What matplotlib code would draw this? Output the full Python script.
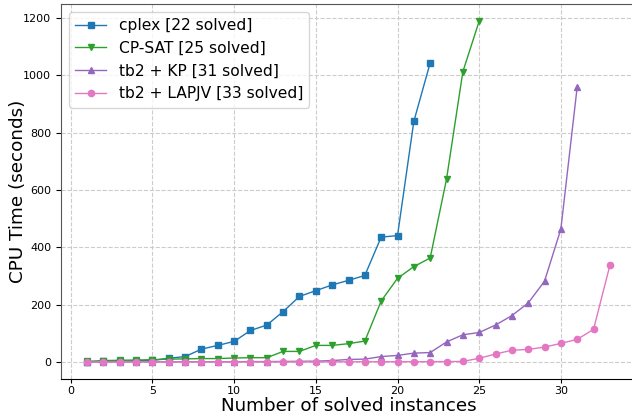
import matplotlib
matplotlib.use("Agg")
import matplotlib.pyplot as plt

cplex_x = list(range(1, 23))
cplex_y = [1, 2, 3, 4, 6, 13, 19, 45, 58, 72, 110, 129, 176, 229, 249, 269, 285, 302, 436, 441, 840, 1044]

cpsat_x = list(range(1, 26))
cpsat_y = [2, 5, 6, 7, 8, 10, 11, 12, 12, 14, 15, 15, 37, 37, 58, 58, 64, 73, 213, 292, 333, 363, 638, 1013, 1190]

kp_x = list(range(1, 32))
kp_y = [0.5, 0.5, 0.5, 0.6, 0.7, 0.8, 0.9, 1, 1, 1, 1.5, 1.5, 2, 2.5, 3, 5, 9, 10, 19, 23, 31, 33, 70, 95, 103, 129, 162, 206, 282, 464, 960]

lap_x = list(range(1, 34))
lap_y = [0.2, 0.2, 0.2, 0.2, 0.2, 0.2, 0.2, 0.3, 0.3, 0.3, 0.3, 0.4, 0.4, 0.5, 0.6, 0.7, 0.8, 0.9, 1, 1, 1, 1.2, 1.5, 2, 13, 28, 41, 44, 52, 65, 79, 114, 337]

labels = ["cplex [22 solved]", "CP-SAT [25 solved]", "tb2 + KP [31 solved]", "tb2 + LAPJV [33 solved]"]

fig = plt.figure(figsize=(6.32, 4.19), dpi=100)
ax = fig.add_axes([61/632, 40/419, (636-61)/632, (379-4)/419])

series = [
    (cplex_x, cplex_y, "#1f77b4", "s"),
    (cpsat_x, cpsat_y, "#2ca02c", "v"),
    (kp_x, kp_y, "#9467bd", "^"),
    (lap_x, lap_y, "#e377c2", "o"),
]
for (xs, ys, c, m), lab in zip(series, labels):
    ax.plot(xs, ys, color=c, marker=m, markersize=4.5, linewidth=1.0, label=lab)

ax.grid(True, linestyle="--", color="#cccccc", linewidth=0.8)
ax.set_axisbelow(True)
ax.tick_params(labelsize=8)
ax.tick_params(axis="x", pad=2, length=3)
ax.set_xlabel("Number of solved instances", fontsize=13.2)
ax.set_ylabel("CPU Time (seconds)", fontsize=13.2)
ax.xaxis.set_label_coords((349-61)/575, (379-397)/375)
ax.yaxis.set_label_coords((27-61)/575, (379-191)/375)
ax.spines["left"].set_color("#555555")
ax.spines["top"].set_color("#555555")
ax.legend(loc="upper left", fontsize=11.2, borderaxespad=0.5)

fig.savefig("out.png", dpi=100)
